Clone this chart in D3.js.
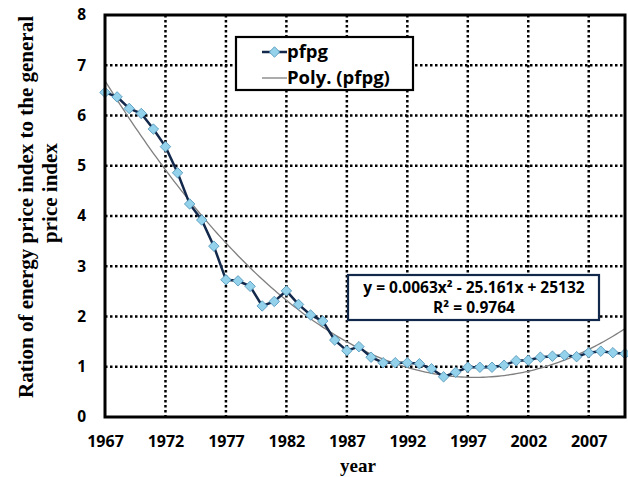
<!DOCTYPE html>
<html>
<head>
<meta charset="utf-8">
<script src="https://cdn.jsdelivr.net/npm/d3@7"></script>
<style>
  body { margin: 0; background: #fff; }
  text { font-family: "Open Sans", Lato, sans-serif; }
</style>
</head>
<body>
<div class="chart"></div>
<script>
var svgWidth = 628;
var svgHeight = 477;

var margin = { top: 15, right: 3, bottom: 60, left: 105 };
var width = svgWidth - margin.left - margin.right;
var height = svgHeight - margin.top - margin.bottom;

// data
var years = [1967, 1968, 1969, 1970, 1971, 1972, 1973, 1974, 1975, 1976,
  1977, 1978, 1979, 1980, 1981, 1982, 1983, 1984, 1985, 1986,
  1987, 1988, 1989, 1990, 1991, 1992, 1993, 1994, 1995, 1996,
  1997, 1998, 1999, 2000, 2001, 2002, 2003, 2004, 2005, 2006,
  2007, 2008, 2009, 2010];
var pfpg = [6.46, 6.37, 6.14, 6.04, 5.73, 5.38, 4.86, 4.24, 3.92, 3.40,
  2.73, 2.71, 2.60, 2.21, 2.30, 2.51, 2.24, 2.03, 1.91, 1.53,
  1.32, 1.40, 1.19, 1.08, 1.08, 1.08, 1.06, 0.96, 0.80, 0.89,
  0.99, 0.99, 0.99, 1.03, 1.12, 1.13, 1.19, 1.21, 1.23, 1.20,
  1.28, 1.31, 1.28, 1.26];
var xTicks = [1967, 1972, 1977, 1982, 1987, 1992, 1997, 2002, 2007];
var yTicks = [0, 1, 2, 3, 4, 5, 6, 7, 8];
var equation = ["y = 0.0063x\u00b2 - 25.161x + 25132", "R\u00b2 = 0.9764"];

var data = years.map((y, i) => ({ year: y, value: pfpg[i] }));

// quadratic least-squares trend (like Excel's Poly. order 2)
function polyFit(xs, ys) {
  var x0 = d3.mean(xs);
  var s = [0, 0, 0, 0, 0], t = [0, 0, 0];
  xs.forEach(function(x, i) {
    var u = x - x0;
    for (var k = 0; k < 5; k++) s[k] += Math.pow(u, k);
    for (var k = 0; k < 3; k++) t[k] += ys[i] * Math.pow(u, k);
  });
  var A = [[s[0], s[1], s[2], t[0]], [s[1], s[2], s[3], t[1]], [s[2], s[3], s[4], t[2]]];
  for (var c = 0; c < 3; c++) {
    for (var r = c + 1; r < 3; r++) {
      var f = A[r][c] / A[c][c];
      for (var k = c; k < 4; k++) A[r][k] -= f * A[c][k];
    }
  }
  var b = [0, 0, 0];
  for (var r = 2; r >= 0; r--) {
    var v = A[r][3];
    for (var k = r + 1; k < 3; k++) v -= A[r][k] * b[k];
    b[r] = v / A[r][r];
  }
  return function(x) { var u = x - x0; return b[0] + b[1] * u + b[2] * u * u; };
}
var trend = polyFit(years, pfpg);

var svg = d3.select(".chart")
  .append("svg")
  .attr("width", svgWidth)
  .attr("height", svgHeight);

var chartGroup = svg.append("g")
  .attr("transform", `translate(${margin.left}, ${margin.top})`);

var x = d3.scaleLinear().domain([1967, 2010]).range([0, width]);
var y = d3.scaleLinear().domain([0, 8]).range([height, 0]);

// dotted gridlines
chartGroup.append("g")
  .selectAll("line")
  .data(yTicks.slice(1, -1))
  .enter().append("line")
  .attr("x1", 0).attr("x2", width)
  .attr("y1", d => y(d)).attr("y2", d => y(d))
  .attr("stroke", "#000")
  .attr("stroke-width", 2.5)
  .attr("stroke-dasharray", "2.5,2.5");

chartGroup.append("g")
  .selectAll("line")
  .data(xTicks.slice(1))
  .enter().append("line")
  .attr("x1", d => x(d)).attr("x2", d => x(d))
  .attr("y1", 0).attr("y2", height)
  .attr("stroke", "#000")
  .attr("stroke-width", 2.5)
  .attr("stroke-dasharray", "2.5,2.5");

// trend line
var trendYears = d3.range(1967, 2010.01, 0.25);
chartGroup.append("path")
  .datum(trendYears)
  .attr("fill", "none")
  .attr("stroke", "#7f7f7f")
  .attr("stroke-width", 1.3)
  .attr("d", d3.line().x(d => x(d)).y(d => y(trend(d))));

// data series
chartGroup.append("path")
  .datum(data)
  .attr("fill", "none")
  .attr("stroke", "#13294b")
  .attr("stroke-width", 2.5)
  .attr("d", d3.line().x(d => x(d.year)).y(d => y(d.value)));

var diamond = d3.symbol().type(d3.symbolDiamond2).size(70);
chartGroup.append("g")
  .selectAll("path")
  .data(data)
  .enter().append("path")
  .attr("transform", d => `translate(${x(d.year)}, ${y(d.value)})`)
  .attr("d", diamond)
  .attr("fill", "#93d2ea")
  .attr("stroke", "#4a8fb5")
  .attr("stroke-width", 0.8);

// plot border
chartGroup.append("rect")
  .attr("width", width)
  .attr("height", height)
  .attr("fill", "none")
  .attr("stroke", "#000")
  .attr("stroke-width", 3);

// axes (labels only)
var bottomAxis = d3.axisBottom(x).tickValues(xTicks).tickFormat(d3.format("d")).tickSize(0);
var leftAxis = d3.axisLeft(y).tickValues(yTicks).tickSize(0).tickPadding(19);

var xAxis = chartGroup.append("g")
  .attr("transform", `translate(0, ${height})`)
  .call(bottomAxis);
var yAxis = chartGroup.append("g").call(leftAxis);
[xAxis, yAxis].forEach(function(a, i) {
  a.select(".domain").remove();
  a.selectAll("text")
    .attr("font-family", "'Open Sans', Lato, sans-serif")
    .attr("font-size", i === 0 ? "16px" : "15.5px")
    .attr("font-weight", "bold")
    .attr("fill", "#000");
});
xAxis.selectAll("text").attr("y", 30).attr("dy", null);

// axis titles
svg.append("text")
  .attr("x", 358)
  .attr("y", 472)
  .attr("text-anchor", "middle")
  .style("font-family", "'Liberation Serif', serif")
  .attr("font-size", "19px")
  .attr("font-weight", "bold")
  .text("year");

svg.append("text")
  .attr("transform", "translate(33, 207) rotate(-90)")
  .attr("text-anchor", "middle")
  .style("font-family", "'Liberation Serif', serif")
  .attr("font-size", "21px")
  .attr("font-weight", "bold")
  .text("Ration of energy price index to the general");

svg.append("text")
  .attr("transform", "translate(57, 193) rotate(-90)")
  .attr("text-anchor", "middle")
  .style("font-family", "'Liberation Serif', serif")
  .attr("font-size", "21px")
  .attr("font-weight", "bold")
  .text("price index");

// legend
var legend = svg.append("g");
legend.append("rect")
  .attr("x", 236).attr("y", 37)
  .attr("width", 177).attr("height", 53)
  .attr("fill", "#fff")
  .attr("stroke", "#000")
  .attr("stroke-width", 2.2);
legend.append("line")
  .attr("x1", 262).attr("x2", 287).attr("y1", 52).attr("y2", 52)
  .attr("stroke", "#13294b").attr("stroke-width", 2.5);
legend.append("path")
  .attr("transform", "translate(274.5, 52)")
  .attr("d", diamond)
  .attr("fill", "#93d2ea")
  .attr("stroke", "#4a8fb5")
  .attr("stroke-width", 0.8);
legend.append("line")
  .attr("x1", 262).attr("x2", 287).attr("y1", 78).attr("y2", 78)
  .attr("stroke", "#7f7f7f").attr("stroke-width", 1.3);
legend.selectAll("text.leg")
  .data(["pfpg", "Poly. (pfpg)"])
  .enter().append("text")
  .attr("class", "leg")
  .attr("x", 287)
  .attr("y", (d, i) => 58 + i * 26)
  .attr("font-size", "18.5px")
  .attr("font-weight", "bold")
  .text(d => d);

// equation box
var eq = svg.append("g");
eq.append("rect")
  .attr("x", 348).attr("y", 275)
  .attr("width", 251).attr("height", 45)
  .attr("fill", "#fff")
  .attr("stroke", "#13294b")
  .attr("stroke-width", 2.2);
eq.selectAll("text")
  .data(equation)
  .enter().append("text")
  .attr("x", 474)
  .attr("y", (d, i) => 293 + i * 20)
  .attr("text-anchor", "middle")
  .attr("font-size", "15.5px")
  .attr("font-weight", "bold")
  .text(d => d);
</script>
</body>
</html>
